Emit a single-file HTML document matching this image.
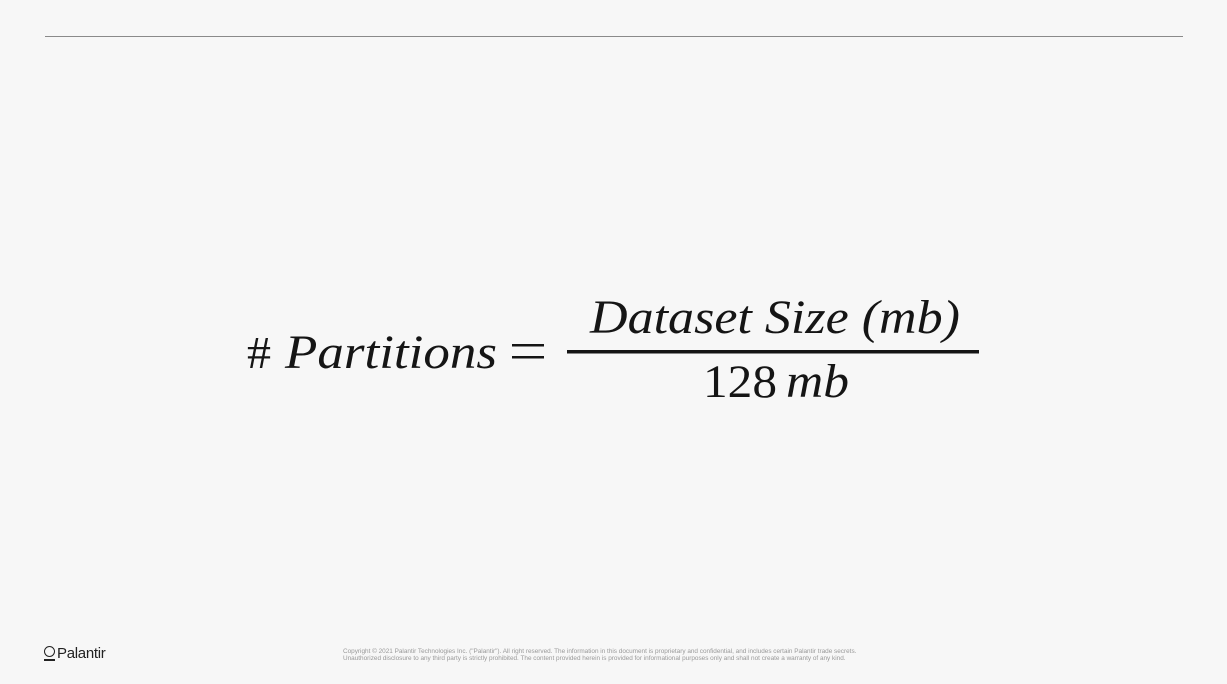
<!DOCTYPE html>
<html><head><meta charset="utf-8"><style>
html,body{margin:0;padding:0;background:#f7f7f7;}
body{width:1227px;height:684px;position:relative;overflow:hidden;font-family:"Liberation Sans",sans-serif;}
.rule{position:absolute;left:45px;top:36px;width:1138px;height:1px;background:#8a8a8a;}
.logo{position:absolute;left:44px;top:645px;font-size:15px;color:#222;letter-spacing:-0.3px;}
.copy{position:absolute;left:343px;top:648px;font-size:6.4px;line-height:7px;color:#999;white-space:nowrap;}
svg{position:absolute;left:0;top:0;}
</style></head><body>
<div class="rule"></div>
<svg width="1227" height="684" font-family="Liberation Serif, serif" fill="#151515">
<text x="247" y="368" font-size="46" textLength="24" lengthAdjust="spacingAndGlyphs">#</text>
<text x="285" y="368" font-size="48" font-style="italic" textLength="212" lengthAdjust="spacingAndGlyphs">Partitions</text>
<rect x="512" y="344" width="32" height="2.5"/>
<rect x="512" y="356" width="32" height="2.5"/>
<rect x="567" y="350" width="412" height="3.5"/>
<text x="590" y="333" font-size="48" font-style="italic" textLength="370" lengthAdjust="spacingAndGlyphs">Dataset Size (mb)</text>
<text x="703" y="397" font-size="47" textLength="74" lengthAdjust="spacingAndGlyphs">128</text>
<text x="786" y="397" font-size="48" font-style="italic" textLength="63" lengthAdjust="spacingAndGlyphs">mb</text>
</svg>
<div class="logo"><span style="display:inline-block;width:9px;height:9px;border:1.6px solid #222;border-radius:50%;vertical-align:1px;margin-right:2px;position:relative"><span style="position:absolute;left:-1px;top:12px;width:11px;height:1.6px;background:#222"></span></span>Palantir</div>
<div class="copy">Copyright © 2021 Palantir Technologies Inc. ("Palantir"). All right reserved. The information in this document is proprietary and confidential, and includes certain Palantir trade secrets.<br>Unauthorized disclosure to any third party is strictly prohibited. The content provided herein is provided for informational purposes only and shall not create a warranty of any kind.</div>
</body></html>
